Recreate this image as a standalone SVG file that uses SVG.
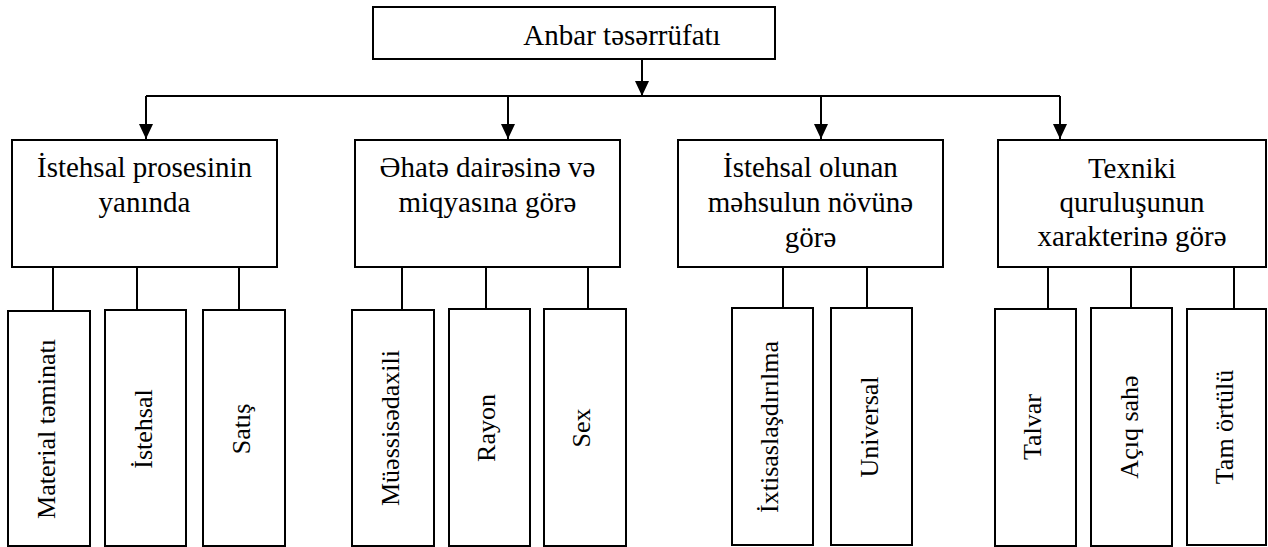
<svg xmlns="http://www.w3.org/2000/svg" width="1268" height="547" viewBox="0 0 1268 547">
  <defs>
    <marker id="arr" markerUnits="userSpaceOnUse" markerWidth="16" markerHeight="15" refX="15" refY="7" orient="auto">
      <path d="M0,0 L15,7 L0,14 z" fill="#000"/>
    </marker>
  </defs>
  <style>
    rect { fill: #fff; stroke: #000; stroke-width: 2; }
    text { font-family: "Liberation Serif", "DejaVu Serif", "Times New Roman", serif; fill: #000; text-anchor: middle; }
    .h { font-size: 29px; }
    .v { font-size: 26px; }
    .c line, .c path { stroke: #000; stroke-width: 2; fill: none; }
  </style>
  <rect x="0" y="0" width="1268" height="547" style="fill:#fff;stroke:none"/>

  <g class="c" id="connectors">
    <line x1="642" y1="59" x2="642" y2="96" marker-end="url(#arr)"/>
    <line x1="146" y1="96" x2="1060" y2="96"/>
    <line x1="146" y1="96" x2="146" y2="139" marker-end="url(#arr)"/>
    <line x1="508" y1="96" x2="508" y2="139" marker-end="url(#arr)"/>
    <line x1="821" y1="96" x2="821" y2="139" marker-end="url(#arr)"/>
    <line x1="1060" y1="96" x2="1060" y2="139" marker-end="url(#arr)"/>
    <line x1="53" y1="267" x2="53" y2="311"/>
    <line x1="137" y1="267" x2="137" y2="310"/>
    <line x1="239" y1="267" x2="239" y2="310"/>
    <line x1="402" y1="267" x2="402" y2="310"/>
    <line x1="486" y1="267" x2="486" y2="309"/>
    <line x1="588" y1="267" x2="588" y2="309"/>
    <line x1="783" y1="267" x2="783" y2="308"/>
    <line x1="867" y1="267" x2="867" y2="308"/>
    <line x1="1048" y1="267" x2="1048" y2="309"/>
    <line x1="1131" y1="267" x2="1131" y2="308"/>
    <line x1="1234" y1="267" x2="1234" y2="309"/>
  </g>

  <g id="root">
    <rect x="373" y="7" width="402" height="52"/>
    <text class="h" x="622" y="45">Anbar təsərrüfatı</text>
  </g>

  <g id="cat1">
    <rect x="12" y="140" width="265" height="127"/>
    <text class="h" x="144.5" y="177">İstehsal prosesinin</text>
    <text class="h" x="144.5" y="212">yanında</text>
  </g>
  <g id="cat2">
    <rect x="355" y="140" width="265" height="127"/>
    <text class="h" x="487.5" y="177">Əhatə dairəsinə və</text>
    <text class="h" x="487.5" y="212">miqyasına görə</text>
  </g>
  <g id="cat3">
    <rect x="678" y="140" width="265" height="127"/>
    <text class="h" x="810.5" y="177">İstehsal olunan</text>
    <text class="h" x="810.5" y="212">məhsulun növünə</text>
    <text class="h" x="810.5" y="247">görə</text>
  </g>
  <g id="cat4">
    <rect x="998" y="140" width="268" height="127"/>
    <text class="h" x="1132" y="178">Texniki</text>
    <text class="h" x="1132" y="212">quruluşunun</text>
    <text class="h" x="1132" y="246">xarakterinə görə</text>
  </g>

  <g id="leaf-material">
    <rect x="8" y="311" width="82" height="235"/>
    <text class="v" transform="translate(55,429) rotate(-90)">Material təminatı</text>
  </g>
  <g id="leaf-istehsal">
    <rect x="105" y="310" width="81" height="236"/>
    <text class="v" transform="translate(152,429) rotate(-90)">İstehsal</text>
  </g>
  <g id="leaf-satis">
    <rect x="203" y="310" width="82" height="236"/>
    <text class="v" transform="translate(250,429) rotate(-90)">Satış</text>
  </g>
  <g id="leaf-muessise">
    <rect x="352" y="310" width="82" height="236"/>
    <text class="v" transform="translate(399,428) rotate(-90)">Müəssisədaxili</text>
  </g>
  <g id="leaf-rayon">
    <rect x="449" y="309" width="81" height="237"/>
    <text class="v" transform="translate(495,428) rotate(-90)">Rayon</text>
  </g>
  <g id="leaf-sex">
    <rect x="544" y="309" width="82" height="237"/>
    <text class="v" transform="translate(590,428) rotate(-90)">Sex</text>
  </g>
  <g id="leaf-ixtisas">
    <rect x="732" y="308" width="81" height="237"/>
    <text class="v" transform="translate(778,427) rotate(-90)">İxtisaslaşdırılma</text>
  </g>
  <g id="leaf-universal">
    <rect x="831" y="308" width="81" height="237"/>
    <text class="v" transform="translate(878,427) rotate(-90)">Universal</text>
  </g>
  <g id="leaf-talvar">
    <rect x="995" y="309" width="81" height="237"/>
    <text class="v" transform="translate(1041,427) rotate(-90)">Talvar</text>
  </g>
  <g id="leaf-aciq">
    <rect x="1091" y="308" width="81" height="238"/>
    <text class="v" transform="translate(1138,427) rotate(-90)">Açıq sahə</text>
  </g>
  <g id="leaf-tam">
    <rect x="1187" y="309" width="79" height="236"/>
    <text class="v" transform="translate(1233,427) rotate(-90)">Tam örtülü</text>
  </g>
</svg>
